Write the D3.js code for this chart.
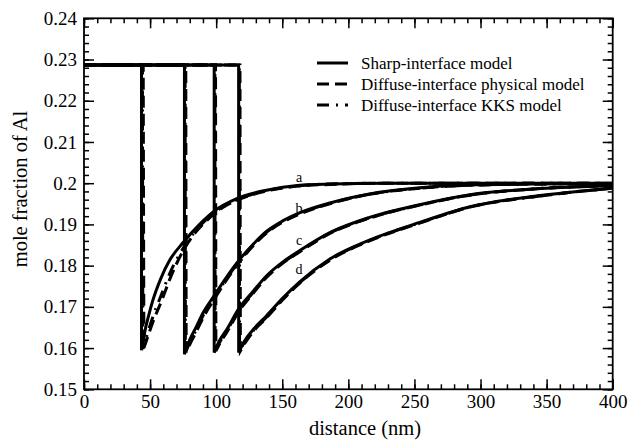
<!DOCTYPE html>
<html>
<head>
<meta charset="utf-8">
<script src="https://cdn.jsdelivr.net/npm/d3@7"></script>
<style>
  body { margin: 0; background: #fff; }
  svg { display: block; }
</style>
</head>
<body>
<svg id="chart" width="639" height="440"></svg>
<script>
// plateau value of the concentration profiles
const T = 0.2287;

// curve labels a..d
const curveNames = ["a", "b", "c", "d"];

// sharp-interface model (solid)
const sharp = [
  [[0,T],[43.5,T],[43.5,0.1595],[46,0.1640],[49,0.1680],[52,0.1715],[58,0.1768],[65,0.1814],[75,0.1856],[88,0.1902],[98,0.1931],[116,0.1963],[138,0.1983],[163,0.1995],[186,0.1998],[230,0.2000],[300,0.2000],[400,0.2000]],
  [[0,T],[76,T],[76,0.1585],[80,0.1620],[85,0.1652],[90,0.1685],[98,0.1725],[108,0.1773],[117,0.1812],[128,0.1852],[138,0.1883],[150,0.1908],[163,0.1928],[186,0.1952],[216,0.1974],[254,0.1989],[292,0.1996],[340,0.1998],[400,0.1999]],
  [[0,T],[98.5,T],[98.5,0.1589],[102,0.1615],[108,0.1645],[117,0.1695],[128,0.1738],[138,0.1775],[150,0.1808],[163,0.1836],[186,0.1880],[216,0.1917],[254,0.1948],[292,0.1972],[345,0.1987],[400,0.1994]],
  [[0,T],[117,T],[117,0.1589],[121,0.1615],[128,0.1645],[138,0.1678],[150,0.1720],[163,0.1760],[186,0.1816],[216,0.1862],[254,0.1905],[292,0.1943],[345,0.1970],[400,0.1988]]
];

// diffuse-interface physical model (dashed)
const phys = [
  [[0,T],[44.8,T],[45.3,0.1600],[48,0.1625],[52,0.1662],[59,0.1717],[65,0.1768],[75,0.1836],[85,0.1883],[95,0.1916],[105,0.1941],[116,0.1959],[138,0.1981],[163,0.1993],[186,0.1997],[230,0.2000],[300,0.2000],[400,0.2000]],
  [[0,T],[77,T],[77.3,0.1590],[81,0.1615],[85,0.1640],[90,0.1673],[98,0.1716],[108,0.1766],[117,0.1806],[128,0.1848],[138,0.1879],[150,0.1905],[163,0.1925],[186,0.1950],[216,0.1973],[254,0.1988],[292,0.1995],[340,0.1998],[400,0.1999]],
  [[0,T],[99.5,T],[99.8,0.1593],[103,0.1613],[108,0.1638],[117,0.1688],[128,0.1733],[138,0.1771],[150,0.1805],[163,0.1833],[186,0.1878],[216,0.1915],[254,0.1947],[292,0.1971],[345,0.1987],[400,0.1994]],
  [[0,T],[118,T],[118.3,0.1593],[122,0.1613],[128,0.1640],[138,0.1673],[150,0.1716],[163,0.1757],[186,0.1813],[216,0.1860],[254,0.1903],[292,0.1942],[345,0.1969],[400,0.1988]]
];

// diffuse-interface KKS model (dash-dot)
const kks = [
  [[0,T],[44.2,T],[44.5,0.1598],[48,0.1635],[52,0.1675],[58,0.1725],[65,0.1782],[75,0.1842],[85,0.1887],[95,0.1919],[105,0.1943],[116,0.1960],[138,0.1982],[163,0.1994],[186,0.1998],[230,0.2000],[300,0.2000],[400,0.2000]],
  [[0,T],[76.5,T],[76.7,0.1588],[80,0.1613],[85,0.1645],[90,0.1678],[98,0.1720],[108,0.1769],[117,0.1809],[128,0.1850],[138,0.1881],[150,0.1906],[163,0.1926],[186,0.1951],[216,0.1973],[254,0.1988],[292,0.1995],[340,0.1998],[400,0.1999]],
  [[0,T],[99,T],[99.2,0.1591],[103,0.1616],[108,0.1641],[117,0.1691],[128,0.1735],[138,0.1773],[150,0.1806],[163,0.1834],[186,0.1879],[216,0.1916],[254,0.1947],[292,0.1971],[345,0.1987],[400,0.1994]],
  [[0,T],[117.5,T],[117.7,0.1591],[121,0.1612],[128,0.1642],[138,0.1675],[150,0.1718],[163,0.1758],[186,0.1814],[216,0.1861],[254,0.1904],[292,0.1942],[345,0.1969],[400,0.1988]]
];

// label anchor points (x, y in data units)
const labelPos = [[162.7,0.2004],[162.7,0.1928],[162.7,0.1851],[162.7,0.1780]];

const xMajor = [0,50,100,150,200,250,300,350,400];
const yMajor = [0.15,0.16,0.17,0.18,0.19,0.2,0.21,0.22,0.23,0.24];
const legendNames = ["Sharp-interface model", "Diffuse-interface physical model", "Diffuse-interface KKS model"];

const FONT = "'Times New Roman', Times, 'Liberation Serif', 'Nimbus Roman', 'Noto Serif', 'DejaVu Serif', serif";

const svg = d3.select("#chart");
const x = d3.scaleLinear().domain([0, 400]).range([84, 612.7]);
const y = d3.scaleLinear().domain([0.15, 0.24]).range([389.3, 18.3]);

const xMinor = d3.range(0, 401, 10);
const yMinor = d3.range(0, 46).map(i => +(0.15 + i * 0.002).toFixed(3));

const fmtY = d => d === 0.2 ? "0.2" : d3.format(".2f")(d);

function ticks(g) {
  g.attr("font-family", FONT).attr("font-size", 19);
  g.select(".domain").remove();
  g.selectAll(".tick line").attr("stroke-width", 1.5);
  g.selectAll("text").attr("fill", "#000").style("font-family", FONT);
}

// minor ticks
svg.append("g").attr("transform", `translate(0,${y(0.15)})`)
  .call(d3.axisBottom(x).tickValues(xMinor).tickSize(-5).tickFormat("")).call(ticks);
svg.append("g").attr("transform", `translate(0,${y(0.24)})`)
  .call(d3.axisTop(x).tickValues(xMinor).tickSize(-5).tickFormat("")).call(ticks);
svg.append("g").attr("transform", `translate(${x(0)},0)`)
  .call(d3.axisLeft(y).tickValues(yMinor).tickSize(-5).tickFormat("")).call(ticks);
svg.append("g").attr("transform", `translate(${x(400)},0)`)
  .call(d3.axisRight(y).tickValues(yMinor).tickSize(-5).tickFormat("")).call(ticks);

// major ticks
svg.append("g").attr("transform", `translate(0,${y(0.15)})`)
  .call(d3.axisBottom(x).tickValues(xMajor).tickSize(-10).tickPadding(5).tickFormat(d3.format("d"))).call(ticks);
svg.append("g").attr("transform", `translate(0,${y(0.24)})`)
  .call(d3.axisTop(x).tickValues(xMajor).tickSize(-10).tickFormat("")).call(ticks);
svg.append("g").attr("transform", `translate(${x(0)},0)`)
  .call(d3.axisLeft(y).tickValues(yMajor).tickSize(-10).tickPadding(7).tickFormat(fmtY)).call(ticks);
svg.append("g").attr("transform", `translate(${x(400)},0)`)
  .call(d3.axisRight(y).tickValues(yMajor).tickSize(-10).tickFormat("")).call(ticks);

// frame
svg.append("rect")
  .attr("x", x(0)).attr("y", y(0.24))
  .attr("width", x(400) - x(0)).attr("height", y(0.15) - y(0.24))
  .attr("fill", "none").attr("stroke", "#000").attr("stroke-width", 1.8);

// profile path: flat + vertical drop linear, rising branch smooth
const lin = d3.line().x(d => x(d[0])).y(d => y(d[1]));
const mono = d3.line().x(d => x(d[0])).y(d => y(d[1])).curve(d3.curveMonotoneX);
function profile(pts) {
  return lin(pts.slice(0, 3)) + mono(pts.slice(2)).replace(/^M/, "L");
}

const styles = [
  { data: sharp, dash: null },
  { data: phys, dash: "12,6" },
  { data: kks, dash: "12,7,2,7" }
];

styles.forEach(s => {
  svg.append("g").selectAll("path")
    .data(s.data)
    .join("path")
    .attr("d", profile)
    .attr("fill", "none")
    .attr("stroke", "#000")
    .attr("stroke-width", 3)
    .attr("stroke-dasharray", s.dash);
});

// curve labels
svg.append("g")
  .selectAll("text")
  .data(curveNames)
  .join("text")
  .attr("x", (d, i) => x(labelPos[i][0]))
  .attr("y", (d, i) => y(labelPos[i][1]))
  .attr("text-anchor", "middle")
  .attr("fill", "#000")
  .style("font-family", FONT).style("font-size", "14px")
  .text(d => d);

// legend
const leg = svg.append("g");
legendNames.forEach((name, i) => {
  const ly = 63 + i * 21;
  leg.append("line")
    .attr("x1", 317).attr("x2", 348).attr("y1", ly).attr("y2", ly)
    .attr("stroke", "#000").attr("stroke-width", 3)
    .attr("stroke-dasharray", styles[i].dash);
  leg.append("text")
    .attr("x", 361).attr("y", ly + 5.5)
    .attr("fill", "#000")
    .style("font-family", FONT).style("font-size", "17px")
    .text(name);
});

// axis titles
svg.append("text")
  .attr("x", 365).attr("y", 435)
  .attr("text-anchor", "middle")
  .style("font-family", FONT).style("font-size", "20.5px")
  .text("distance (nm)");

svg.append("text")
  .attr("transform", "translate(27,189) rotate(-90)")
  .attr("text-anchor", "middle")
  .style("font-family", FONT).style("font-size", "20.5px")
  .text("mole fraction of Al");
</script>
</body>
</html>
